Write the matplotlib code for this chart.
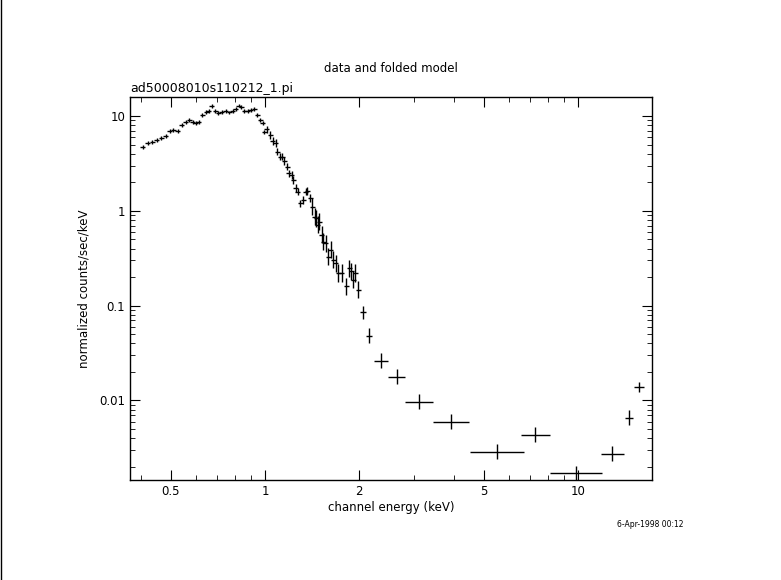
import numpy as np
import matplotlib
matplotlib.use("Agg")
import matplotlib.pyplot as plt
from matplotlib.ticker import FixedLocator, FixedFormatter, LogLocator, NullFormatter

# low-energy (fine bins) spectrum
e_lo = [0.407,0.421,0.435,0.451,0.466,0.482,0.495,0.509,0.526,0.542,0.558,0.572,0.586,0.599,0.614,
        0.629,0.648,0.661,0.676,0.692,0.708,0.727,0.749,0.769,0.789,0.804,0.822,0.838,0.859,0.879,
        0.900,0.922,0.945,0.964,0.981,0.995,1.012,1.037,1.058,1.082,1.095,1.117,1.133,1.153,1.175,
        1.191,1.217,1.232,1.253,1.272,1.297,1.323,1.349,1.365,1.393,1.413,1.438,1.455,1.473,1.490,
        1.517,1.535,1.563,1.593,1.622,1.652,1.682,1.714,1.758,1.815,1.855,1.883,1.915,1.943,1.982]
f_lo = [4.75,5.24,5.37,5.59,5.82,6.21,7.01,7.12,6.95,8.04,8.58,9.08,8.58,8.51,8.65,
        10.25,11.1,11.2,12.7,11.4,10.8,11.0,11.2,10.9,11.2,11.9,12.9,12.5,11.3,11.3,
        11.6,11.9,10.2,9.08,8.37,6.84,7.24,6.31,5.46,5.16,4.21,3.73,3.73,3.36,2.93,
        2.49,2.39,2.12,1.73,1.60,1.20,1.31,1.60,1.61,1.36,1.11,0.871,0.837,0.713,0.772,
        0.559,0.475,0.457,0.330,0.388,0.305,0.281,0.221,0.221,0.160,0.249,0.230,0.188,0.221,0.147]

# high-energy (grouped bins) spectrum
e_hi = [2.05,2.15,2.34,2.63,3.10,3.93,5.52,7.31,9.88,12.88,14.58,15.66]
f_hi = [0.085,0.0483,0.0262,0.0179,0.00969,0.00597,0.00288,0.00435,0.00171,0.00275,0.00657,0.0139]
xw_hi = [0.0096,0.0096,0.022,0.026,0.045,0.058,0.086,0.045,0.083,0.038,0.013,0.016]  # log half-width
yw_hi = [0.07,0.08,0.08,0.08,0.08,0.08,0.08,0.08,0.08,0.08,0.08,0.05]

fig = plt.figure(figsize=(7.81,5.80), dpi=100)
ax = fig.add_axes([0.1665,0.1724,0.668,0.660])

e_lo = np.array(e_lo); f_lo = np.array(f_lo)
xw_lo = np.full(len(e_lo), 0.008)
yw_lo = np.where(e_lo < 1.0, 0.02, np.where(e_lo < 1.4, 0.04, 0.09))
ax.errorbar(e_lo, f_lo,
            xerr=[e_lo - e_lo/10**xw_lo, e_lo*10**xw_lo - e_lo],
            yerr=[f_lo - f_lo/10**yw_lo, f_lo*10**yw_lo - f_lo],
            fmt='none', ecolor='black', elinewidth=1.0, capsize=0)
e_hi = np.array(e_hi); f_hi = np.array(f_hi); xw = np.array(xw_hi); yw = np.array(yw_hi)
ax.errorbar(e_hi, f_hi,
            xerr=[e_hi - e_hi/10**xw, e_hi*10**xw - e_hi],
            yerr=[f_hi - f_hi/10**yw, f_hi*10**yw - f_hi],
            fmt='none', ecolor='black', elinewidth=1.0, capsize=0)

ax.set_xscale('log'); ax.set_yscale('log')
ax.set_xlim(0.37, 17.2); ax.set_ylim(0.00145, 15.8)
ax.xaxis.set_major_locator(FixedLocator([0.5,1,2,5,10]))
ax.xaxis.set_major_formatter(FixedFormatter(['0.5','1','2','5','10']))
ax.xaxis.set_minor_locator(LogLocator(base=10, subs=np.arange(1,10)))
ax.xaxis.set_minor_formatter(NullFormatter())
ax.yaxis.set_major_locator(FixedLocator([0.01,0.1,1,10]))
ax.yaxis.set_major_formatter(FixedFormatter(['0.01','0.1','1','10']))
ax.yaxis.set_minor_locator(LogLocator(base=10, subs=np.arange(2,10)))
ax.yaxis.set_minor_formatter(NullFormatter())
ax.tick_params(which='both', direction='in', top=True, right=True, labelsize=8.5)
ax.tick_params(which='major', length=7)
ax.tick_params(which='minor', length=3.5)
for s in ax.spines.values():
    s.set_linewidth(1.0)

ax.set_xlabel('channel energy (keV)', fontsize=8.5, labelpad=2)
ax.set_ylabel('normalized counts/sec/keV', fontsize=8.5, labelpad=6)
fig.text(0.5, 0.875, 'data and folded model', ha='center', fontsize=8.5)
fig.text(0.1665, 0.841, 'ad50008010s110212_1.pi', ha='left', fontsize=9)
fig.text(0.875, 0.092, '6-Apr-1998 00:12', ha='right', fontsize=5.5)
fig.add_artist(plt.Line2D([0.001,0.001],[0,1], color='black', lw=1))

fig.savefig('out.png', dpi=100)
